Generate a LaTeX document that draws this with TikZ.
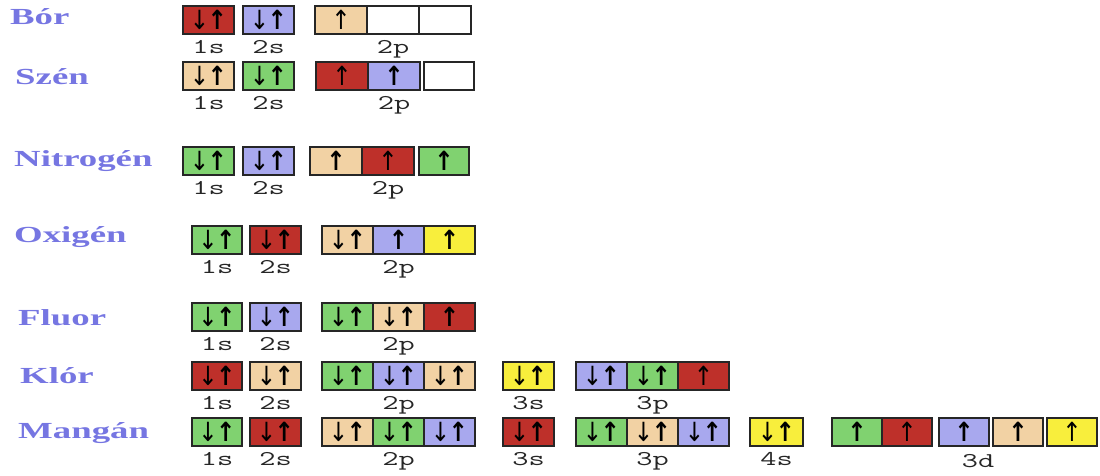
\documentclass[tikz,border=0pt]{standalone}
\usepackage{fontspec}
\usepackage{graphicx}
\usetikzlibrary{positioning}

\newfontfamily\elemfont[FakeStretch=1.6]{Liberation Serif}
\newfontfamily\arrowfont{DejaVu Sans}

\definecolor{ored}{RGB}{190,48,42}
\definecolor{oblue}{RGB}{168,168,238}
\definecolor{otan}{RGB}{242,210,164}
\definecolor{ogreen}{RGB}{128,210,112}
\definecolor{oyellow}{RGB}{248,238,60}
\definecolor{elemblue}{RGB}{118,118,226}

% spin arrows inside the orbital boxes
\newcommand{\spinpair}{\scalebox{1.05}[1.2]{↓\kern-1.5pt{\bfseries ↑}}}
\newcommand{\spinup}{\scalebox{1.05}[1.2]{\bfseries ↑}}
\newcommand{\spinupt}{\scalebox{1.05}[1.2]{↑}}
\newcommand{\shl}[1]{\scalebox{1.5}[1]{#1}}

\begin{document}
\begin{tikzpicture}[
    x=1pt, y=-1pt,
    orb/.style={rectangle, draw=black!85, line width=1.5pt, minimum width=51pt, minimum height=28pt, inner sep=0pt, outer sep=0pt, font=\arrowfont\fontsize{22}{22}\selectfont},
    elem/.style={anchor=base west, inner sep=0pt, text=elemblue, font=\elemfont\bfseries\fontsize{23}{23}\selectfont},
    shell/.style={inner sep=0pt, text height=12pt, text depth=0pt, text=black!85, font=\ttfamily\fontsize{21}{21}\selectfont}
]
    \useasboundingbox (0,0) rectangle (1100,476);

    % Bor
    \node[elem] (bor) at (10,25) {Bór};
    \node[orb, fill=ored, anchor=north west] (b1s) at (183,6) {\spinpair};
    \node[orb, fill=oblue, right=9pt of b1s] (b2s) {\spinpair};
    \node[orb, fill=otan, minimum width=52pt, right=21pt of b2s] (b2pa) {\spinupt};
    \node[orb, fill=white, minimum width=52pt, right=0pt of b2pa] (b2pb) {};
    \node[orb, fill=white, minimum width=52pt, right=0pt of b2pb] (b2pc) {};
    \node[shell, below=7pt of b1s] (lb1s) {\shl{1s}};
    \node[shell, below=7pt of b2s] (lb2s) {\shl{2s}};
    \node[shell, below=7pt of b2pb] (lb2p) {\shl{2p}};

    % Szen
    \node[elem] (szen) at (15,85) {Szén};
    \node[orb, fill=otan, anchor=north west] (c1s) at (183,62) {\spinpair};
    \node[orb, fill=ogreen, right=9pt of c1s] (c2s) {\spinpair};
    \node[orb, fill=ored, minimum width=52pt, right=22pt of c2s] (c2pa) {\spinupt};
    \node[orb, fill=oblue, minimum width=52pt, right=0pt of c2pa] (c2pb) {\spinup};
    \node[orb, fill=white, minimum width=50pt, right=4pt of c2pb] (c2pc) {};
    \node[shell, below=7pt of c1s] (lc1s) {\shl{1s}};
    \node[shell, below=7pt of c2s] (lc2s) {\shl{2s}};
    \node[shell, below=7pt of c2pb] (lc2p) {\shl{2p}};

    % Nitrogen
    \node[elem] (nitrogen) at (14,167) {Nitrogén};
    \node[orb, fill=ogreen, anchor=north west] (n1s) at (183,147) {\spinpair};
    \node[orb, fill=oblue, right=9pt of n1s] (n2s) {\spinpair};
    \node[orb, fill=otan, minimum width=52pt, right=16pt of n2s] (n2pa) {\spinup};
    \node[orb, fill=ored, minimum width=52pt, right=0pt of n2pa] (n2pb) {\spinupt};
    \node[orb, fill=ogreen, minimum width=50pt, right=5pt of n2pb] (n2pc) {\spinup};
    \node[shell, below=7pt of n1s] (ln1s) {\shl{1s}};
    \node[shell, below=7pt of n2s] (ln2s) {\shl{2s}};
    \node[shell, below=7pt of n2pb] (ln2p) {\shl{2p}};

    % Oxigen
    \node[elem] (oxigen) at (14,242) {Oxigén};
    \node[orb, fill=ogreen, minimum width=50pt, anchor=north west] (o1s) at (192,226) {\spinpair};
    \node[orb, fill=ored, right=8pt of o1s] (o2s) {\spinpair};
    \node[orb, fill=otan, right=21pt of o2s] (o2pa) {\spinpair};
    \node[orb, fill=oblue, right=0pt of o2pa] (o2pb) {\spinup};
    \node[orb, fill=oyellow, right=0pt of o2pb] (o2pc) {\spinup};
    \node[shell, below=7pt of o1s] (lo1s) {\shl{1s}};
    \node[shell, below=7pt of o2s] (lo2s) {\shl{2s}};
    \node[shell, below=7pt of o2pb] (lo2p) {\shl{2p}};

    % Fluor
    \node[elem] (fluor) at (18,325) {Fluor};
    \node[orb, fill=ogreen, minimum width=50pt, anchor=north west] (f1s) at (192,303) {\spinpair};
    \node[orb, fill=oblue, right=8pt of f1s] (f2s) {\spinpair};
    \node[orb, fill=ogreen, right=21pt of f2s] (f2pa) {\spinpair};
    \node[orb, fill=otan, right=0pt of f2pa] (f2pb) {\spinpair};
    \node[orb, fill=ored, right=0pt of f2pb] (f2pc) {\spinup};
    \node[shell, below=7pt of f1s] (lf1s) {\shl{1s}};
    \node[shell, below=7pt of f2s] (lf2s) {\shl{2s}};
    \node[shell, below=7pt of f2pb] (lf2p) {\shl{2p}};

    % Klor
    \node[elem] (klor) at (20,383) {Klór};
    \node[orb, fill=ored, minimum width=50pt, anchor=north west] (k1s) at (192,362) {\spinpair};
    \node[orb, fill=otan, right=8pt of k1s] (k2s) {\spinpair};
    \node[orb, fill=ogreen, right=21pt of k2s] (k2pa) {\spinpair};
    \node[orb, fill=oblue, right=0pt of k2pa] (k2pb) {\spinpair};
    \node[orb, fill=otan, right=0pt of k2pb] (k2pc) {\spinpair};
    \node[orb, fill=oyellow, right=28pt of k2pc] (k3s) {\spinpair};
    \node[orb, fill=oblue, right=22pt of k3s] (k3pa) {\spinpair};
    \node[orb, fill=ogreen, right=0pt of k3pa] (k3pb) {\spinpair};
    \node[orb, fill=ored, right=0pt of k3pb] (k3pc) {\spinupt};
    \node[shell, below=7pt of k1s] (lk1s) {\shl{1s}};
    \node[shell, below=7pt of k2s] (lk2s) {\shl{2s}};
    \node[shell, below=7pt of k2pb] (lk2p) {\shl{2p}};
    \node[shell, below=7pt of k3s] (lk3s) {\shl{3s}};
    \node[shell, below=7pt of k3pb] (lk3p) {\shl{3p}};

    % Mangan
    \node[elem] (mangan) at (18,438) {Mangán};
    \node[orb, fill=ogreen, minimum width=50pt, anchor=north west] (m1s) at (192,418) {\spinpair};
    \node[orb, fill=ored, right=8pt of m1s] (m2s) {\spinpair};
    \node[orb, fill=otan, right=21pt of m2s] (m2pa) {\spinpair};
    \node[orb, fill=ogreen, right=0pt of m2pa] (m2pb) {\spinpair};
    \node[orb, fill=oblue, right=0pt of m2pb] (m2pc) {\spinpair};
    \node[orb, fill=ored, right=28pt of m2pc] (m3s) {\spinpair};
    \node[orb, fill=ogreen, right=22pt of m3s] (m3pa) {\spinpair};
    \node[orb, fill=otan, right=0pt of m3pa] (m3pb) {\spinpair};
    \node[orb, fill=oblue, right=0pt of m3pb] (m3pc) {\spinpair};
    \node[orb, fill=oyellow, minimum width=53pt, right=21pt of m3pc] (m4s) {\spinpair};
    \node[orb, fill=ogreen, minimum width=50pt, right=29pt of m4s] (m3da) {\spinup};
    \node[orb, fill=ored, minimum width=50pt, right=0pt of m3da] (m3db) {\spinupt};
    \node[orb, fill=oblue, minimum width=50pt, right=7pt of m3db] (m3dc) {\spinup};
    \node[orb, fill=otan, minimum width=50pt, right=4pt of m3dc] (m3dd) {\spinup};
    \node[orb, fill=oyellow, minimum width=50pt, right=4pt of m3dd] (m3de) {\spinupt};
    \node[shell, below=7pt of m1s] (lm1s) {\shl{1s}};
    \node[shell, below=7pt of m2s] (lm2s) {\shl{2s}};
    \node[shell, below=7pt of m2pb] (lm2p) {\shl{2p}};
    \node[shell, below=7pt of m3s] (lm3s) {\shl{3s}};
    \node[shell, below=7pt of m3pb] (lm3p) {\shl{3p}};
    \node[shell, below=7pt of m4s] (lm4s) {\shl{4s}};
    \node[shell, below=9pt of m3dc, xshift=14pt] (lm3d) {\shl{3d}};
\end{tikzpicture}
\end{document}
